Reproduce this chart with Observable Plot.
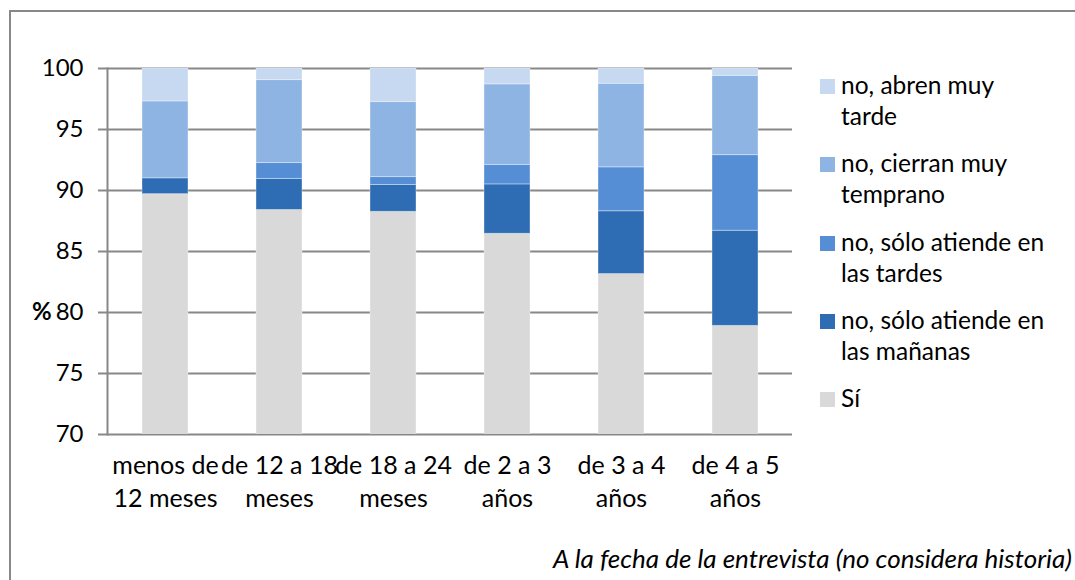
<!DOCTYPE html>
<html>
<head>
<meta charset="utf-8">
<script src="https://cdn.jsdelivr.net/npm/d3@7"></script>
<script src="https://cdn.jsdelivr.net/npm/@observablehq/plot@0.6"></script>
<style>
  html, body { margin: 0; padding: 0; background: #fff; overflow: hidden; }
  #wrap { position: relative; width: 1075px; height: 580px; font-family: Lato, "Noto Sans", sans-serif; color: #000; }
  #chart { position: absolute; left: 0; top: 0; }
  #border { position: absolute; left: 9px; top: 10px; width: 1080px; height: 600px; border: 2px solid #888; box-sizing: border-box; pointer-events: none; }
  #legend { position: absolute; left: 820px; top: 0; }
  .item { position: absolute; left: 0; width: 250px; }
  .sw { position: absolute; left: 0; width: 15px; height: 15px; }
  .lbl { position: absolute; left: 21px; top: -10px; font-size: 24.5px; line-height: 31px; white-space: nowrap; }
  #caption { position: absolute; right: 3px; top: 542px; font-size: 26px; font-style: italic; white-space: nowrap; }
  #pct { position: absolute; left: 32px; top: 296px; font-size: 24px; font-weight: bold; }
</style>
</head>
<body>
<div id="wrap">
  <div id="chart"></div>
  <div id="border"></div>
  <div id="pct">%</div>
  <div id="legend"></div>
  <div id="caption">A la fecha de la entrevista (no considera historia)</div>
</div>
<script>
// Categories (x axis), with their two-line tick labels
const categories = ["menos de 12 meses", "de 12 a 18 meses", "de 18 a 24 meses", "de 2 a 3 años", "de 3 a 4 años", "de 4 a 5 años"];
const tickLabels = ["menos de\n12 meses", "de 12 a 18\nmeses", "de 18 a 24\nmeses", "de 2 a 3\naños", "de 3 a 4\naños", "de 4 a 5\naños"];

// Series (bottom to top of each stack)
const seriesNames = ["Sí", "no, sólo atiende en las mañanas", "no, sólo atiende en las tardes", "no, cierran muy temprano", "no, abren muy tarde"];
const si       = [89.7, 88.4, 88.25, 86.45, 83.15, 78.9];
const mananas  = [1.3, 2.55, 2.2, 4.05, 5.15, 7.8];
const tardes   = [0, 1.3, 0.65, 1.6, 3.6, 6.2];
const cierran  = [6.3, 6.8, 6.15, 6.6, 6.85, 6.5];
const abren    = [2.7, 0.95, 2.75, 1.3, 1.25, 0.6];
const seriesColors = ["#d9d9d9", "#2e6cb4", "#558ed5", "#8eb4e3", "#c6d9f1"];

// Y axis ticks
const yTicks = [70, 75, 80, 85, 90, 95, 100];

// Legend entries (top to bottom), with their line breaks
const legendLabels = ["no, abren muy\ntarde", "no, cierran muy\ntemprano", "no, sólo atiende en\nlas tardes", "no, sólo atiende en\nlas mañanas", "Sí"];

const seriesValues = [si, mananas, tardes, cierran, abren];
const data = [];
seriesNames.forEach((s, i) => {
  categories.forEach((c, j) => data.push({ cat: c, serie: s, value: seriesValues[i][j] }));
});

const labelOf = new Map(categories.map((c, i) => [c, tickLabels[i]]));

const chart = Plot.plot({
  width: 1075,
  height: 580,
  marginLeft: 107,
  marginRight: 283,
  marginTop: 68,
  marginBottom: 146,
  style: { fontFamily: "Lato, 'Noto Sans', sans-serif", background: "transparent", color: "#000" },
  x: { domain: categories, paddingInner: 0.6, paddingOuter: 0.3, label: null },
  y: { domain: [70, 100], label: null },
  color: { domain: seriesNames, range: seriesColors },
  marks: [
    Plot.ruleY(yTicks, { stroke: "#888", strokeWidth: 2 }),
    Plot.barY(data, Plot.stackY({
      x: "cat", y: "value", fill: "serie", order: seriesNames,
      stroke: "#fff", strokeOpacity: 0.35, strokeWidth: 1, clip: true
    })),
    Plot.frame({ anchor: "left", stroke: "#888", strokeWidth: 2 }),
    Plot.axisY({ ticks: yTicks, tickSize: 9, tickPadding: 15, stroke: "#888", strokeWidth: 2, fontSize: 24, fill: "#000", label: null }),
    Plot.axisX({ tickSize: 0, tickPadding: 16, fontSize: 25, lineHeight: 1.32, fill: "#000", tickFormat: d => labelOf.get(d), label: null })
  ]
});
document.getElementById("chart").appendChild(chart);

// Legend
const legend = document.getElementById("legend");
const legendColors = seriesColors.slice().reverse();
legendLabels.forEach((t, i) => {
  const item = document.createElement("div");
  item.className = "item";
  item.style.top = (79 + i * 78.3) + "px";
  const sw = document.createElement("div");
  sw.className = "sw";
  sw.style.background = legendColors[i];
  const lbl = document.createElement("div");
  lbl.className = "lbl";
  lbl.innerHTML = t.split("\n").join("<br>");
  item.appendChild(sw);
  item.appendChild(lbl);
  legend.appendChild(item);
});
</script>
</body>
</html>
